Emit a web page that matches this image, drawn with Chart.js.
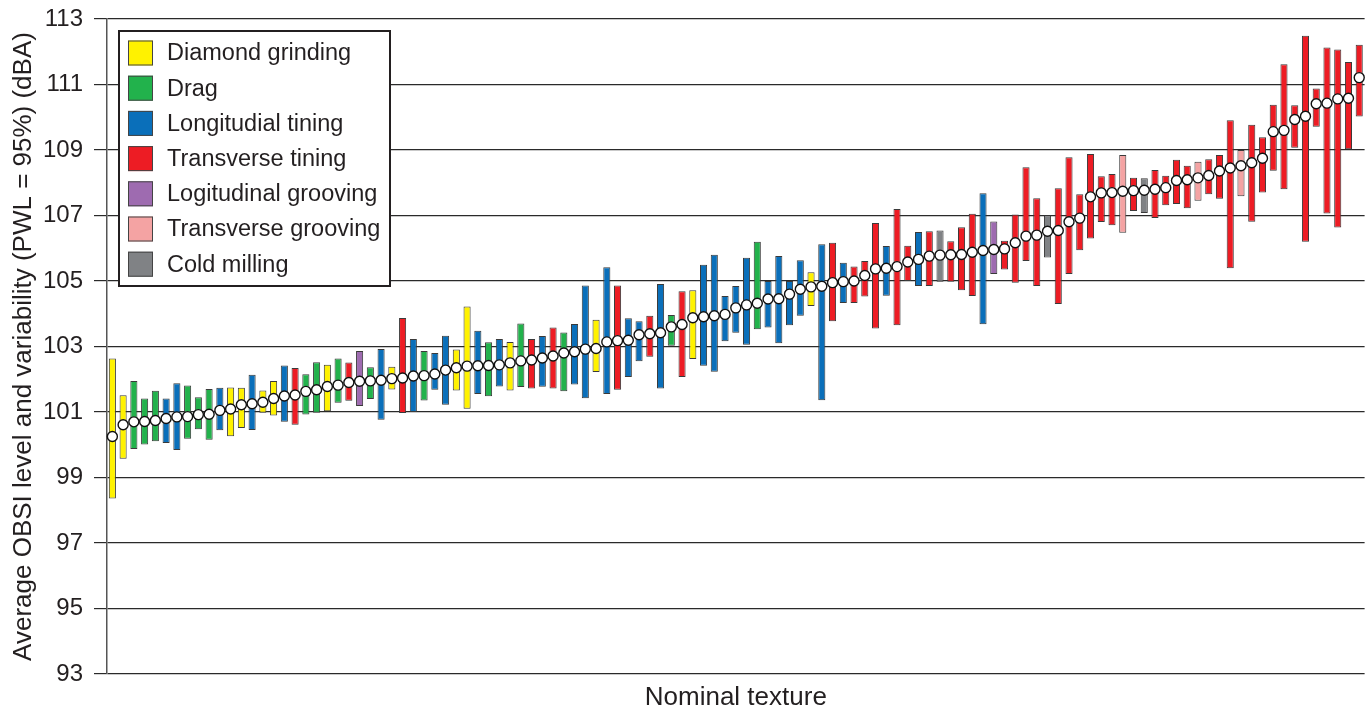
<!DOCTYPE html>
<html>
<head>
<meta charset="utf-8">
<script src="https://cdn.jsdelivr.net/npm/chart.js@4"></script>
<style>
  html, body { margin: 0; padding: 0; background: #fff; }
  #wrap { width: 1371px; height: 713px; }
</style>
</head>
<body>
<div id="wrap"><canvas id="c" width="1371" height="713"></canvas></div>
<script>
// Texture categories and their fill colours
const textureNames = ['Diamond grinding', 'Drag', 'Longitudial tining', 'Transverse tining',
  'Logitudinal grooving', 'Transverse grooving', 'Cold milling'];
const textureColors = ['#fff200', '#22b24c', '#0a6fba', '#ed1c24', '#9e6bb0', '#f4a3a3', '#808285'];

// Texture type of each test section (index into textureNames), sorted by mean level
const sectionType = [
  0,0,1,1,1,2,2,1,1,1, 2,0,0,2,0,0,2,3,1,1,
  0,1,3,4,1,2,0,3,2,1, 2,2,0,0,2,1,2,0,1,3,
  2,3,1,2,2,0,2,3,2,2, 3,2,1,3,0,2,2,2,2,2,
  1,2,2,2,2,0,2,3,2,3, 3,3,2,3,3,2,3,6,3,3,
  3,2,4,3,3,3,3,6,3,3, 3,3,3,3,5,3,6,3,3,3,
  3,5,3,3,3,5,3,3,3,3, 3,3,3,3,3,3,3
];

// Average OBSI level (dBA)
const meanLevel = [
  100.25,100.61,100.70,100.71,100.74,100.80,100.85,100.86,100.92,100.93,
  101.05,101.09,101.22,101.25,101.30,101.41,101.49,101.52,101.63,101.68,
  101.78,101.82,101.90,101.94,101.95,101.97,102.02,102.04,102.10,102.11,
  102.16,102.28,102.35,102.40,102.41,102.42,102.44,102.50,102.56,102.59,
  102.65,102.71,102.80,102.84,102.92,102.94,103.14,103.18,103.19,103.36,
  103.39,103.42,103.60,103.67,103.88,103.91,103.94,103.98,104.18,104.27,
  104.32,104.45,104.46,104.60,104.75,104.82,104.84,104.95,104.98,105.00,
  105.17,105.37,105.39,105.44,105.58,105.66,105.76,105.79,105.80,105.81,
  105.88,105.93,105.96,105.98,106.17,106.37,106.40,106.52,106.54,106.81,
  106.92,107.57,107.69,107.70,107.74,107.76,107.77,107.80,107.85,108.07,
  108.09,108.15,108.22,108.36,108.45,108.52,108.61,108.75,109.56,109.60,
  109.93,110.03,110.41,110.43,110.56,110.58,111.21
];

// Lower limit of the 95% variability band (dBA)
const lowLevel = [
  98.36,99.57,99.87,100.01,100.11,100.05,99.84,100.18,100.47,100.15,
  100.44,100.26,100.51,100.45,100.98,100.89,100.70,100.61,100.92,100.98,
  101.02,101.28,101.34,101.18,101.40,100.76,101.69,100.97,101.00,101.35,
  101.68,101.22,101.66,101.10,101.55,101.48,101.78,101.66,101.76,101.72,
  101.77,101.72,101.63,101.84,101.42,102.22,101.55,101.68,102.07,102.55,
  102.69,101.72,103.02,102.07,102.62,102.41,102.23,103.16,103.42,103.05,
  103.53,103.58,103.10,103.65,103.94,104.24,101.36,103.77,104.33,104.33,
  104.53,103.55,104.55,103.65,105.00,104.85,104.85,104.98,104.98,104.72,
  104.54,103.68,105.21,105.35,104.95,105.61,104.85,105.72,104.30,105.21,
  105.94,106.30,106.80,106.70,106.47,107.14,107.08,106.92,107.31,107.35,
  107.22,107.45,107.65,107.51,105.39,107.59,106.81,107.70,108.37,107.80,
  109.07,106.20,109.71,107.06,106.63,109.02,110.02
];

// Upper limit of the 95% variability band (dBA)
const highLevel = [
  102.63,101.51,101.95,101.41,101.65,101.41,101.88,101.81,101.45,101.70,
  101.74,101.75,101.74,102.14,101.66,101.95,102.42,102.34,102.15,102.52,
  102.44,102.63,102.51,102.86,102.37,102.92,102.38,103.87,103.23,102.86,
  102.80,103.33,102.91,104.22,103.48,103.13,103.23,103.14,103.70,103.23,
  103.32,103.58,103.43,103.69,104.86,103.82,105.42,104.86,103.86,103.77,
  103.94,104.91,103.96,104.69,104.72,105.50,105.80,104.54,104.85,105.71,
  106.20,105.00,105.76,105.00,105.63,105.27,106.12,106.17,105.56,105.44,
  105.61,106.77,106.07,107.20,106.08,106.50,106.52,106.54,106.21,106.64,
  107.05,107.68,106.82,106.23,107.03,108.47,107.53,107.01,107.83,108.78,
  107.65,108.88,108.20,108.27,108.85,108.15,108.14,108.39,108.21,108.70,
  108.52,108.64,108.72,108.85,109.91,109.00,109.77,109.39,110.38,111.62,
  110.37,112.49,110.88,112.13,112.07,111.69,112.21
];

// Y axis tick values
const yTicks = [93, 95, 97, 99, 101, 103, 105, 107, 109, 111, 113];

const sectionLabels = meanLevel.map((_, i) => String(i + 1));
const FONT = '"Liberation Sans", Arial, Helvetica, sans-serif';
const INK = '#231f20';

// Legend box drawn inside the plot area
const textureLegend = {
  id: 'textureLegend',
  afterDraw(chart) {
    const { ctx, chartArea } = chart;
    const x0 = chartArea.left + 12, y0 = chartArea.top + 12;
    const w = 271, rowH = 35.2, h = 255;
    ctx.save();
    ctx.fillStyle = '#fff';
    ctx.fillRect(x0, y0, w, h);
    ctx.lineWidth = 2;
    ctx.strokeStyle = '#231f20';
    ctx.strokeRect(x0, y0, w, h);
    ctx.font = '23.5px ' + FONT;
    ctx.textBaseline = 'middle';
    textureNames.forEach((name, i) => {
      const cy = y0 + 22 + i * rowH;
      ctx.fillStyle = textureColors[i];
      ctx.fillRect(x0 + 9, cy - 12.5, 25, 25);
      ctx.lineWidth = 1;
      ctx.strokeStyle = '#444';
      ctx.strokeRect(x0 + 9.5, cy - 12, 24, 24);
      ctx.fillStyle = INK;
      ctx.fillText(name, x0 + 48, cy + 1);
    });
    ctx.restore();
  }
};

new Chart(document.getElementById('c'), {
  type: 'bar',
  data: {
    labels: sectionLabels,
    datasets: [
      {
        type: 'line',
        label: 'Average level',
        data: meanLevel,
        showLine: false,
        pointRadius: 5,
        pointBorderWidth: 1.4,
        pointBackgroundColor: '#ffffff',
        pointBorderColor: '#111111',
        order: 0
      },
      {
        type: 'bar',
        label: 'Variability',
        data: lowLevel.map((lo, i) => [lo, highLevel[i]]),
        backgroundColor: sectionType.map(t => textureColors[t]),
        borderColor: '#3a3a3a',
        borderWidth: 1,
        borderSkipped: false,
        categoryPercentage: 1,
        barPercentage: 0.66,
        order: 1
      }
    ]
  },
  options: {
    responsive: false,
    animation: false,
    events: [],
    layout: { padding: { top: 19, right: 3, left: 0, bottom: 0 } },
    plugins: {
      legend: { display: false },
      tooltip: { enabled: false },
      title: { display: false }
    },
    scales: {
      x: {
        type: 'category',
        offset: true,
        grid: { display: false },
        border: { display: false },
        ticks: { display: false },
        title: {
          display: true,
          text: 'Nominal texture',
          color: INK,
          font: { family: FONT, size: 26 },
          padding: { top: 6, bottom: 0 }
        },
        afterFit(scale) {
          scale.height = 39;
          scale.paddingLeft = 0;
          scale.paddingRight = 0;
        }
      },
      y: {
        min: 93,
        max: 113,
        afterBuildTicks(scale) { scale.ticks = yTicks.map(v => ({ value: v })); },
        ticks: {
          color: INK,
          font: { family: FONT, size: 24 },
          padding: 11
        },
        grid: {
          color: '#2a2a2a',
          lineWidth: 1.2,
          drawTicks: true,
          tickLength: 13
        },
        border: { display: true, color: '#555', width: 1.5 },
        title: {
          display: true,
          text: 'Average OBSI level and variability (PWL = 95%) (dBA)',
          color: INK,
          font: { family: FONT, size: 26 },
          padding: { top: 8, bottom: 0 }
        },
        afterFit(scale) {
          scale.width = 107;
          scale.paddingTop = 0;
          scale.paddingBottom = 0;
        }
      }
    }
  },
  plugins: [textureLegend]
});
</script>
</body>
</html>
